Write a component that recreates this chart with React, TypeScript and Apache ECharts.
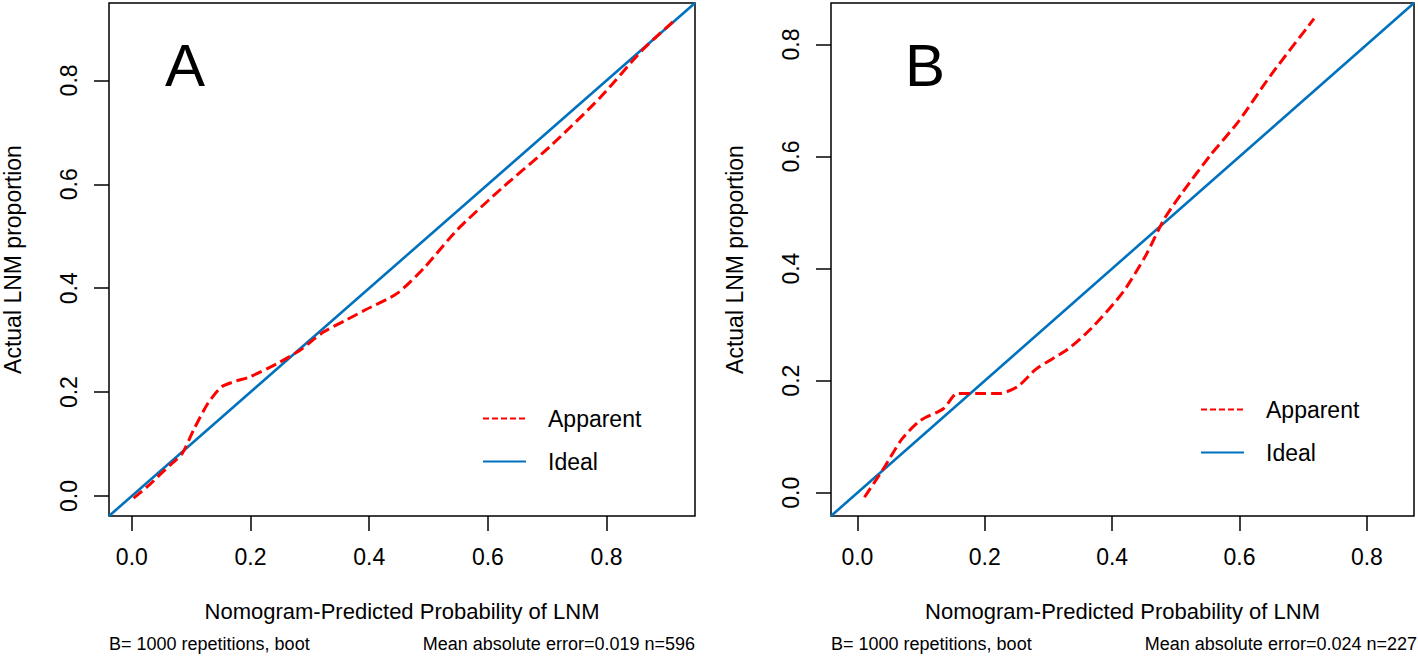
import React, { useEffect, useRef } from "react";
import * as echarts from "echarts";

const FONT = "'Liberation Sans', Arial, Helvetica, sans-serif";

const tickValues = [0, 0.2, 0.4, 0.6, 0.8];
const xTitle = "Nomogram-Predicted Probability of LNM";
const yTitle = "Actual LNM proportion";
const legendNames = ["Apparent", "Ideal"];

const rangeA = [-0.0385, 0.949];
const rangeB = [-0.0415, 0.874];

const apparentA = [
  [0.003, -0.004], [0.03, 0.022], [0.05, 0.044], [0.07, 0.065], [0.085, 0.082],
  [0.104, 0.127], [0.128, 0.178], [0.151, 0.21], [0.175, 0.221], [0.198, 0.229],
  [0.245, 0.255], [0.284, 0.281], [0.322, 0.315], [0.36, 0.338], [0.393, 0.358],
  [0.447, 0.39], [0.494, 0.441], [0.548, 0.512], [0.626, 0.595], [0.704, 0.672],
  [0.79, 0.768], [0.86, 0.858], [0.914, 0.915],
];

const apparentB = [
  [0.011, -0.008], [0.041, 0.043], [0.07, 0.096], [0.099, 0.129], [0.135, 0.15],
  [0.157, 0.177], [0.2, 0.177], [0.222, 0.177], [0.251, 0.189], [0.281, 0.221],
  [0.33, 0.256], [0.367, 0.293], [0.417, 0.358], [0.453, 0.424], [0.482, 0.489],
  [0.511, 0.537], [0.554, 0.602], [0.598, 0.662], [0.649, 0.745], [0.717, 0.846],
];

const idealA = [[rangeA[0], rangeA[0]], [rangeA[1], rangeA[1]]];
const idealB = [[rangeB[0], rangeB[0]], [rangeB[1], rangeB[1]]];

const footLeft = "B= 1000 repetitions, boot";
const footRightA = "Mean absolute error=0.019 n=596";
const footRightB = "Mean absolute error=0.024 n=227";

const RED = "#FF0000";
const BLUE = "#0072BD";

function xAxisCfg(gridIndex: number, range: number[]) {
  return {
    type: "value",
    gridIndex,
    min: range[0],
    max: range[1],
    name: xTitle,
    nameLocation: "middle",
    nameGap: 84,
    nameTextStyle: { fontSize: 22, color: "#000", fontFamily: FONT },
    axisLine: { show: false, onZero: false },
    axisTick: {
      show: true,
      inside: false,
      length: 15,
      lineStyle: { color: "#000", width: 1.5 },
      customValues: tickValues,
    },
    axisLabel: {
      show: true,
      margin: 29,
      fontSize: 23,
      color: "#000",
      fontFamily: FONT,
      customValues: tickValues,
      formatter: (v: number) => v.toFixed(1),
    },
    splitLine: { show: false },
  };
}

function yAxisCfg(gridIndex: number, range: number[]) {
  return {
    type: "value",
    gridIndex,
    min: range[0],
    max: range[1],
    name: yTitle,
    nameLocation: "middle",
    nameGap: 85,
    nameRotate: 90,
    nameTextStyle: { fontSize: 23, color: "#000", fontFamily: FONT },
    axisLine: { show: false, onZero: false },
    axisTick: {
      show: true,
      inside: false,
      length: 15,
      lineStyle: { color: "#000", width: 1.5 },
      customValues: tickValues,
    },
    axisLabel: {
      show: true,
      rotate: 90,
      margin: 29,
      fontSize: 23,
      color: "#000",
      fontFamily: FONT,
      customValues: tickValues,
      formatter: (v: number) => v.toFixed(1),
    },
    splitLine: { show: false },
  };
}

function legendCfg(left: number, top: number, gap: number) {
  return {
    data: [
      { name: legendNames[0], lineStyle: { type: [6, 3], width: 2 } },
      { name: legendNames[1], lineStyle: { type: "solid", width: 2 } },
    ],
    orient: "vertical",
    left,
    top,
    padding: 0,
    itemWidth: 43,
    itemHeight: 14,
    itemGap: gap,
    selectedMode: false,
    itemStyle: { opacity: 0 },
    lineStyle: { width: 2 },
    textStyle: { fontSize: 23, color: "#000", fontFamily: FONT, padding: [0, 0, 0, 17] },
  };
}

function textTitle(text: string, pos: any, fontSize: number) {
  return {
    text,
    ...pos,
    padding: 0,
    textStyle: { fontSize, fontWeight: "normal", color: "#000", fontFamily: FONT },
  };
}

export default function App() {
  const ref = useRef<HTMLDivElement>(null);
  useEffect(() => {
    if (!ref.current) return;
    const chart = echarts.init(ref.current, null, { renderer: "svg" });
    const apparentSeries = (data: number[][], idx: number) => ({
      type: "line",
      name: "Apparent",
      xAxisIndex: idx,
      yAxisIndex: idx,
      data,
      smooth: 0.25,
      symbol: "none",
      z: 3,
      itemStyle: { color: RED },
      lineStyle: { color: RED, width: 3, type: [11, 5] },
    });
    const idealSeries = (data: number[][], idx: number) => ({
      type: "line",
      name: "Ideal",
      xAxisIndex: idx,
      yAxisIndex: idx,
      data,
      symbol: "none",
      z: 2,
      itemStyle: { color: BLUE },
      lineStyle: { color: BLUE, width: 2.6 },
    });
    chart.setOption({
      animation: false,
      backgroundColor: "#fff",
      title: [
        textTitle("A", { left: 165, top: 35 }, 60),
        textTitle("B", { left: 905, top: 35 }, 60),
        textTitle(footLeft, { left: 109, top: 635 }, 18),
        textTitle(footRightA, { right: 723, top: 635 }, 18),
        textTitle(footLeft, { left: 831, top: 635 }, 18),
        textTitle(footRightB, { right: 1, top: 635 }, 18),
      ],
      legend: [legendCfg(482, 407, 20), legendCfg(1200, 398, 20)],
      grid: [
        { left: 109, top: 3, width: 586, height: 513, show: true, borderColor: "#000", borderWidth: 1.5 },
        { left: 831, top: 3, width: 583, height: 513, show: true, borderColor: "#000", borderWidth: 1.5 },
      ],
      xAxis: [xAxisCfg(0, rangeA), xAxisCfg(1, rangeB)],
      yAxis: [yAxisCfg(0, rangeA), yAxisCfg(1, rangeB)],
      series: [
        idealSeries(idealA, 0),
        apparentSeries(apparentA, 0),
        idealSeries(idealB, 1),
        apparentSeries(apparentB, 1),
      ],
    });
    return () => chart.dispose();
  }, []);
  return (
    <div
      ref={ref}
      style={{ position: "fixed", left: 0, top: 0, width: 1418, height: 657 }}
    />
  );
}
